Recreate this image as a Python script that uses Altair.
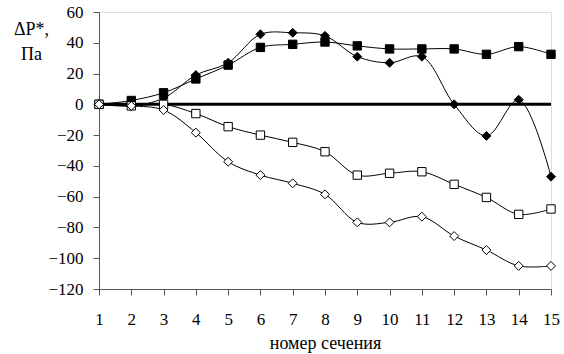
import altair as alt
import pandas as pd

sections = list(range(1, 16))
filled_squares = [0, 2.5, 7.5, 16.5, 25.5, 37, 39, 40.5, 38, 36, 36, 36, 32.5, 37.5, 32.5]
filled_diamonds = [0, -1, 4, 19, 27, 45.5, 46.5, 44.5, 31, 27, 31, 0, -20.5, 3, -47]
open_squares = [0, -1, 0, -6, -14.5, -20, -24.7, -30.8, -46, -44.8, -43.8, -52, -60.5, -71.5, -68]
open_diamonds = [0, -1, -3.7, -18.4, -37.3, -46, -51.3, -58.5, -76.7, -76.7, -73, -85.6, -94.7, -105, -105]
y_ticks = list(range(-120, 61, 20))

series = [
    ("filled_squares", filled_squares, "square", "black"),
    ("filled_diamonds", filled_diamonds, "diamond", "black"),
    ("open_squares", open_squares, "square", "white"),
    ("open_diamonds", open_diamonds, "diamond", "white"),
]

FONT = "serif"

xs = alt.Scale(domain=[1, 15], nice=False, zero=False)
ys = alt.Scale(domain=[-120, 60], nice=False, zero=False)

x_axis = alt.Axis(values=sections, labelPadding=16, title="номер сечения",
                  titlePadding=7, labelFlush=False, labelOverlap=False,
                  labelFont=FONT, titleFont=FONT)
y_axis = alt.Axis(values=y_ticks, labelPadding=10, labelOverlap=False,
                  labelFont=FONT, titleFont=FONT,
                  title=["ΔP*,", "Па"], titleAngle=0, titleAlign="center",
                  titleBaseline="top", titleX=-68, titleY=8, titleLineHeight=25)

X = alt.X("x:Q", scale=xs, axis=x_axis)
Y = alt.Y("y:Q", scale=ys, axis=y_axis)

zero_df = pd.DataFrame({"x": [1], "x2": [15], "y": [0]})
zero = alt.Chart(zero_df).mark_rule(color="black", strokeWidth=3).encode(
    x=X, x2="x2:Q", y=Y,
)

line_layers = []
point_layers = []
for name, vals, shape, fill in series:
    df = pd.DataFrame({"x": sections, "y": vals})
    base = alt.Chart(df).encode(x=X, y=Y)
    line_layers.append(base.mark_line(color="black", strokeWidth=1, interpolate="catmull-rom"))
    point_layers.append(base.mark_point(shape=shape, filled=True, fill=fill, stroke="black",
                                        strokeWidth=1, size=70 if shape == "square" else 80,
                                        opacity=1))

chart = alt.layer(zero, *line_layers, *point_layers).properties(
    width=452, height=277,
    padding={"left": 99, "top": 12, "right": 13, "bottom": 65},
    autosize=alt.AutoSizeParams(type="none"),
    background="white",
).configure_view(stroke=None).configure(font=FONT).configure_axis(
    grid=False, tickSize=6, domainColor="#555", tickColor="#555",
    labelFont=FONT, labelFontSize=17, labelColor="black",
    titleFont=FONT, titleFontSize=18, titleFontWeight="normal", titleColor="black",
)

chart.save("out.html", embed_options={"renderer": "svg", "actions": False})
